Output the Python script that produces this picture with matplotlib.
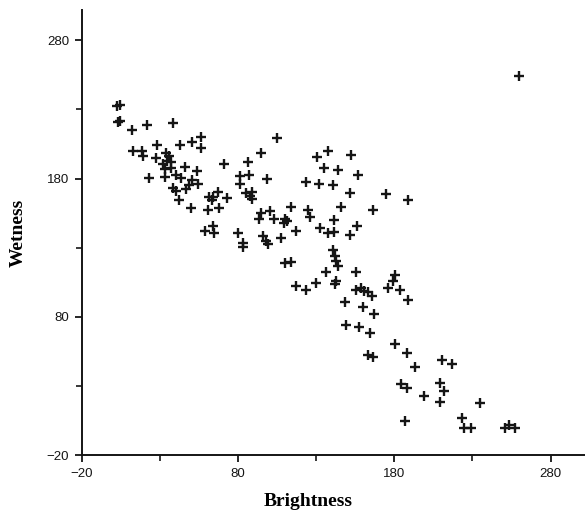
import matplotlib
matplotlib.use("Agg")
import matplotlib.pyplot as plt

# Brightness (x) and Wetness (y) values
brightness = [2.4, 4.5, 3.4, 4.8, 12.3, 21.6, 38.4, 13.0, 18.5, 19.0,
              27.9, 27.7, 23.2, 42.6, 50.3, 56.5, 56.3, 46.0, 53.5, 34.2,
              35.8, 32.0, 34.5, 37.1, 33.3, 36.8, 33.3, 40.3, 43.5, 50.8,
              48.6, 47.0, 54.5, 38.4, 40.5, 42.4, 50.2, 61.4, 64.3, 67.1,
              63.1, 72.7, 61.1, 68.0, 58.8, 64.3, 64.6, 71.2, 86.5, 81.2,
              87.1, 81.2, 85.4, 88.7, 87.6, 88.7, 80.1, 83.3, 83.3, 104.7,
              94.4, 98.8, 94.9, 100.7, 93.2, 102.9, 110.0, 111.2, 109.3, 114.2,
              96.1, 98.1, 99.4, 107.2, 117.0, 110.0, 113.9, 117.0, 123.4, 130.0,
              123.8, 132.0, 140.5, 130.6, 137.3, 152.2, 135.1, 143.7, 156.8, 151.5,
              174.5, 188.9, 124.9, 125.9, 145.8, 166.4, 141.5, 132.3, 137.6, 141.5,
              151.5, 156.2, 141.0, 141.9, 143.0, 144.0, 136.6, 142.6, 141.9, 155.8,
              155.3, 159.0, 160.5, 163.2, 165.8, 180.6, 179.2, 175.8, 183.8, 188.6,
              148.3, 159.8, 167.1, 149.4, 157.5, 164.3, 163.2, 166.4, 180.3, 187.8,
              193.5, 210.5, 217.2, 184.1, 187.8, 199.0, 209.0, 211.6, 209.0, 235.1,
              186.7, 223.6, 224.4, 228.9, 250.6, 253.3, 257.0, 259.7]
wetness = [232.3, 233.5, 220.9, 221.8, 215.5, 218.9, 220.2, 200.1, 200.1, 196.5,
           204.6, 195.2, 180.5, 204.6, 206.3, 210.2, 201.9, 188.4, 185.7, 198.3,
           196.1, 190.4, 192.9, 191.8, 186.8, 187.5, 181.0, 182.4, 180.6, 178.8,
           175.2, 172.7, 176.4, 173.2, 170.8, 164.8, 158.6, 166.5, 166.9, 170.3,
           164.3, 166.2, 157.5, 158.8, 141.9, 145.5, 140.3, 190.9, 192.2, 181.7,
           182.4, 176.4, 169.6, 170.3, 167.2, 165.4, 140.5, 133.5, 130.6, 209.7,
           198.8, 180.0, 154.9, 156.8, 151.1, 151.1, 151.0, 149.5, 147.7, 159.5,
           138.7, 135.1, 132.9, 136.9, 141.9, 119.2, 119.7, 102.2, 99.3, 104.7,
           177.6, 176.4, 175.2, 195.6, 199.8, 197.4, 187.7, 186.5, 182.4, 169.6,
           168.5, 164.7, 157.6, 152.3, 159.5, 157.1, 149.9, 144.6, 140.7, 141.4,
           139.0, 145.5, 128.2, 124.2, 120.6, 117.0, 112.3, 106.1, 103.6, 112.3,
           99.3, 101.1, 98.9, 98.1, 95.3, 110.3, 105.9, 100.5, 99.3, 92.4,
           90.8, 87.4, 81.7, 74.0, 72.7, 68.0, 52.3, 51.1, 60.0, 53.5,
           43.4, 48.7, 45.6, 31.1, 28.2, 22.9, 31.8, 26.5, 18.5, 17.4,
           4.6, 6.5, -0.7, -0.7, -0.7, 1.7, -0.7, 254.0]

ticks_major = [-20, 80, 180, 280]
ticks_minor = [30, 130, 230]

fig = plt.figure(figsize=(5.85, 5.15), dpi=100)
ax = fig.add_axes([0.1397, 0.1165, 0.8603, 0.8641])

ax.plot(brightness, wetness, linestyle='none', marker='+',
        markersize=7, markeredgewidth=1.7, color='#151515')

ax.set_xlim(-20, 302)
ax.set_ylim(-20, 302)

# only left and bottom axis lines, like the original
for lado in ['top', 'right']:
    ax.spines[lado].set_visible(False)
for lado in ['left', 'bottom']:
    ax.spines[lado].set_linewidth(1.4)
    ax.spines[lado].set_color('#151515')

ax.set_xticks(ticks_major)
ax.set_yticks(ticks_major)
ax.set_xticks(ticks_minor, minor=True)
ax.set_yticks(ticks_minor, minor=True)
ax.tick_params(which='major', length=5, width=1.3, direction='out',
               labelsize=9.5, colors='#151515', pad=4)
ax.tick_params(which='minor', length=4, width=1.2, direction='out',
               colors='#151515')
for rotulo in ax.get_xticklabels() + ax.get_yticklabels():
    rotulo.set_family('Liberation Sans')

ax.set_xlabel('Brightness', fontsize=14, fontweight='bold',
              family='Liberation Serif')
ax.set_ylabel('Wetness', fontsize=14, fontweight='bold',
              family='Liberation Serif')
ax.xaxis.set_label_coords(0.45, -0.085)
ax.yaxis.set_label_coords(-0.11, 0.5)

fig.savefig('out.png', dpi=100)
